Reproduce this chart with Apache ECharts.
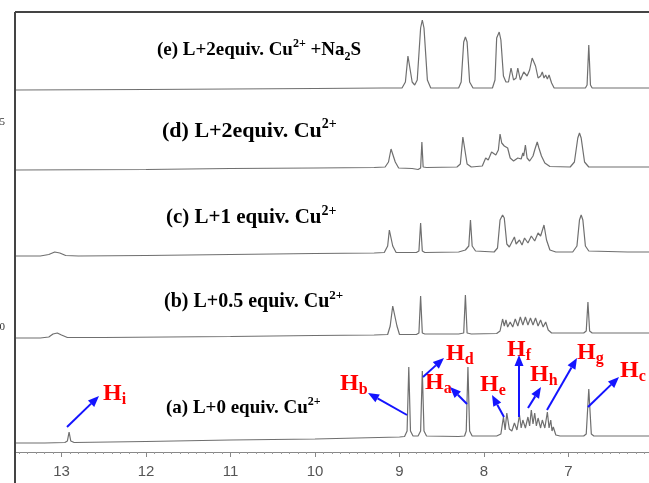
<!DOCTYPE html>
<html>
<head>
<meta charset="utf-8">
<script src="https://cdn.jsdelivr.net/npm/echarts@6/dist/echarts.min.js"></script>
<style>
  html, body { margin: 0; padding: 0; background: #fff; }
  #chart { width: 649px; height: 483px; }
</style>
</head>
<body>
<div id="chart"></div>
<script>
// chemical shift axis (ppm), drawn right-to-left
const ppmTicks = [6, 7, 8, 9, 10, 11, 12, 13]

// traced spectra: [ppm, intensity above the trace's own baseline]
const specA = [
  [13.55, 0], [13.2, 0], [12.96, 0.5], [12.93, 2], [12.91, 11], [12.89, 2], [12.85, 0.5], [12.0, 1.5], [11.0, 3], [10.0, 4], [9.5, 5],
  [9.0, 6], [8.94, 6.5], [8.91, 12], [8.89, 76], [8.87, 12], [8.84, 7], [8.78, 7], [8.75, 12], [8.73, 72], [8.71, 12], [8.68, 7],
  [8.3, 6.5], [8.23, 7], [8.21, 12], [8.19, 76], [8.17, 12], [8.14, 7], [7.85, 7], [7.80, 9], [7.77, 26], [7.75, 13], [7.73, 30],
  [7.70, 14], [7.67, 12], [7.64, 20], [7.61, 13], [7.58, 28], [7.56, 15], [7.54, 23], [7.51, 15], [7.48, 26], [7.46, 17], [7.44, 33],
  [7.42, 19], [7.40, 30], [7.38, 17], [7.36, 25], [7.33, 15], [7.31, 23], [7.28, 15], [7.25, 31], [7.23, 15], [7.21, 23], [7.195, 12],
  [7.18, 16], [7.15, 8], [7.10, 7], [6.82, 7], [6.79, 9], [6.76, 54], [6.73, 9], [6.70, 7], [6.3, 7], [6.0, 7]
]
const specB = [
  [13.55, 0], [13.25, 0], [13.15, 1], [13.10, 4], [13.05, 5], [13.0, 3], [12.93, 0.5], [12.5, 0.5], [11.0, 1.5], [10.0, 2.5], [9.3, 3],
  [9.14, 3.5], [9.11, 12], [9.08, 32], [9.06, 32], [9.03, 12], [9.0, 3.5], [8.8, 3.5], [8.77, 5], [8.75, 42], [8.73, 5], [8.7, 4],
  [8.3, 4], [8.24, 5], [8.22, 43], [8.20, 5], [8.15, 4], [7.85, 4.5], [7.81, 7], [7.78, 19], [7.76, 12], [7.74, 18], [7.72, 11],
  [7.69, 16], [7.66, 11], [7.63, 19], [7.60, 12], [7.57, 21], [7.54, 13], [7.51, 21], [7.48, 13], [7.45, 20], [7.42, 13], [7.39, 20],
  [7.36, 12], [7.33, 18], [7.30, 11], [7.27, 16], [7.24, 8], [7.20, 5], [6.82, 5], [6.79, 7], [6.77, 36], [6.75, 7], [6.72, 5], [6.0, 5]
]
const specC = [
  [13.55, 0], [13.25, 0], [13.15, 1.5], [13.08, 4], [13.02, 3], [12.95, 0.5], [12.8, 0], [12.0, 0.5], [11.0, 1.5], [10.0, 2.5], [9.3, 3],
  [9.18, 3.5], [9.14, 10], [9.12, 26], [9.10, 28], [9.08, 10], [9.04, 3.5], [8.8, 3.5], [8.77, 5], [8.75, 33], [8.73, 5], [8.7, 3.5],
  [8.3, 4], [8.22, 6], [8.18, 10], [8.16, 36], [8.14, 10], [8.10, 5], [7.88, 4], [7.84, 8], [7.81, 36], [7.78, 41], [7.76, 38],
  [7.73, 12], [7.70, 9], [7.67, 14], [7.64, 19], [7.62, 12], [7.58, 16], [7.55, 11], [7.52, 18], [7.48, 13], [7.44, 20], [7.40, 15],
  [7.36, 23], [7.33, 20], [7.29, 31], [7.26, 16], [7.22, 6], [7.15, 4], [6.95, 4], [6.90, 10], [6.87, 36], [6.85, 41], [6.83, 36],
  [6.80, 10], [6.76, 5], [6.3, 4], [6.0, 4]
]
const specD = [
  [13.55, 0], [12.0, 0.5], [11.0, 1.5], [10.0, 2], [9.3, 2.5], [9.17, 3], [9.13, 8], [9.10, 21], [9.08, 22], [9.05, 8], [9.01, 2],
  [8.85, 1.5], [8.78, 0.5], [8.75, 2], [8.735, 28], [8.72, 3], [8.68, 2.5], [8.32, 3], [8.28, 6], [8.25, 33], [8.23, 33], [8.20, 6],
  [8.15, 3], [8.02, 4], [7.98, 12], [7.95, 10], [7.91, 18], [7.89, 20], [7.86, 15], [7.83, 20], [7.81, 36], [7.79, 27], [7.76, 24],
  [7.72, 22], [7.69, 12], [7.65, 9], [7.60, 12], [7.56, 11], [7.54, 17], [7.53, 14], [7.51, 25], [7.49, 12], [7.46, 9], [7.42, 14],
  [7.40, 20], [7.37, 28], [7.35, 22], [7.32, 14], [7.28, 7], [7.22, 3.5], [6.98, 3], [6.93, 8], [6.89, 32], [6.87, 37], [6.85, 32],
  [6.81, 8], [6.76, 3], [6.3, 3], [6.0, 3]
]
const specE = [
  [13.55, 0], [12.0, 0.5], [11.0, 1], [10.0, 1.5], [9.2, 2], [8.97, 2], [8.93, 8], [8.90, 34], [8.88, 34], [8.85, 8], [8.82, 5],
  [8.79, 10], [8.75, 62], [8.73, 70], [8.71, 62], [8.67, 10], [8.63, 2], [8.30, 2], [8.27, 8], [8.24, 48], [8.22, 53], [8.20, 48],
  [8.17, 8], [8.13, 2], [7.90, 2], [7.87, 10], [7.85, 52], [7.82, 58], [7.80, 50], [7.77, 14], [7.74, 8], [7.71, 8], [7.68, 22],
  [7.65, 10], [7.62, 12], [7.60, 22], [7.57, 10], [7.53, 18], [7.49, 14], [7.46, 20], [7.43, 32], [7.41, 30], [7.39, 24], [7.36, 12],
  [7.33, 14], [7.31, 18], [7.29, 12], [7.27, 15], [7.25, 11], [7.23, 15], [7.20, 7], [7.17, 2], [6.80, 2], [6.78, 5], [6.76, 45],
  [6.74, 5], [6.72, 2], [6.0, 2]
]

const spectra = [specA, specB, specC, specD, specE]
// vertical stacking offset of each trace (bottom to top)
const stackOffsets = [9, 114, 196, 282, 362]

const traceLabels = [
  '{m|(a) L+0 equiv. Cu}{sup|2+}',
  '{m|(b) L+0.5 equiv. Cu}{sup|2+}',
  '{m|(c) L+1 equiv. Cu}{sup|2+}',
  '{m|(d) L+2equiv. Cu}{sup|2+}',
  '{m|(e) L+2equiv. Cu}{sup|2+}{m| +Na}{sub|2}{m|S}'
]
const protonLabels = ['i', 'b', 'd', 'a', 'e', 'f', 'h', 'g', 'c']

const SERIF = '"Liberation Serif", "Times New Roman", serif'
const chart = echarts.init(document.getElementById('chart'))

// label layout: [x, y, font size]
const labelPos = [[166, 408, 19], [164, 302, 20], [166, 218, 21], [162, 131, 22], [157, 50, 19]]
const hPos = [[103, 394], [340, 384], [446, 354], [425, 383], [480, 385], [507, 350], [530, 375], [577, 353], [620, 371]]
const arrowPos = [
  [67, 427, 99, 396], [407, 415, 368, 393], [423, 377, 444, 358], [467, 404, 450, 387], [504, 417, 492, 395],
  [519, 417, 519, 355], [528, 408, 541, 387], [547, 410, 577, 358], [588, 407, 619, 377]
]

function arrow(x1, y1, x2, y2) {
  const a = Math.atan2(y2 - y1, x2 - x1), L = 11, W = 4.5
  const bx = x2 - L * Math.cos(a), by = y2 - L * Math.sin(a)
  const px = -Math.sin(a) * W, py = Math.cos(a) * W
  return [
    { type: 'line', z: 100, shape: { x1, y1, x2: bx, y2: by }, style: { stroke: '#1414ff', lineWidth: 2 } },
    { type: 'polygon', z: 100, shape: { points: [[x2, y2], [bx + px, by + py], [bx - px, by - py]] }, style: { fill: '#1414ff' } }
  ]
}

const graphics = []
// frame
graphics.push({ type: 'line', z: 100, shape: { x1: 15, y1: 12, x2: 649, y2: 12 }, style: { stroke: '#444', lineWidth: 2 } })
graphics.push({ type: 'line', z: 100, shape: { x1: 15, y1: 12, x2: 15, y2: 483 }, style: { stroke: '#444', lineWidth: 2 } })
// cut-off labels of a neighbouring panel
graphics.push({ type: 'text', x: 5, y: 122, style: { text: '5', font: '11px ' + SERIF, fill: '#333', align: 'right', verticalAlign: 'middle' } })
graphics.push({ type: 'text', x: 5, y: 327, style: { text: '0', font: '11px ' + SERIF, fill: '#333', align: 'right', verticalAlign: 'middle' } })

traceLabels.forEach((t, i) => {
  const [x, y, fs] = labelPos[i]
  const small = Math.round(fs * 0.65)
  graphics.push({
    type: 'text', z: 100, x, y,
    style: {
      text: t, fill: '#000', verticalAlign: 'middle',
      rich: {
        m: { font: 'bold ' + fs + 'px ' + SERIF, fill: '#000', lineHeight: fs + 6 },
        sup: { font: 'bold ' + small + 'px ' + SERIF, fill: '#000', verticalAlign: 'top', lineHeight: fs + 6, padding: [0, 0, 8, 0] },
        sub: { font: 'bold ' + small + 'px ' + SERIF, fill: '#000', verticalAlign: 'bottom', lineHeight: fs + 6, padding: [6, 0, 0, 0] }
      }
    }
  })
})

protonLabels.forEach((s, i) => {
  const [x, y] = hPos[i]
  graphics.push({
    type: 'text', z: 100, x, y,
    style: {
      text: '{h|H}{s|' + s + '}', verticalAlign: 'middle',
      rich: {
        h: { font: 'bold 24px ' + SERIF, fill: '#ff0000', lineHeight: 28 },
        s: { font: 'bold 16px ' + SERIF, fill: '#ff0000', verticalAlign: 'bottom', lineHeight: 28, padding: [10, 0, 0, 0] }
      }
    }
  })
})
arrowPos.forEach(p => graphics.push(...arrow(...p)))

chart.setOption({
  animation: false,
  backgroundColor: '#fff',
  grid: { left: 15, top: 12, right: -4, bottom: 31, containLabel: false, outerBoundsMode: 'none' },
  xAxis: {
    type: 'value', inverse: true, min: 6, max: 13.55, interval: 1,
    axisLine: { onZero: false, lineStyle: { color: '#888', width: 1 } },
    axisTick: { length: 5, lineStyle: { color: '#888' } },
    minorTick: { show: true, splitNumber: 10, length: 2, lineStyle: { color: '#999' } },
    splitLine: { show: false },
    axisLabel: {
      margin: 12, color: '#555', fontSize: 15, fontFamily: '"Liberation Sans", Arial, sans-serif',
      showMaxLabel: false,
      formatter: v => ppmTicks.includes(v) ? String(v) : ''
    }
  },
  yAxis: { type: 'value', min: 0, max: 440, show: false },
  series: spectra.map((s, i) => ({
    type: 'line',
    data: s.map(([p, h]) => [p, h + stackOffsets[i]]),
    showSymbol: false,
    silent: true,
    lineStyle: { color: '#6f6f6f', width: 1.2 }
  })),
  graphic: graphics
})
</script>
</body>
</html>
